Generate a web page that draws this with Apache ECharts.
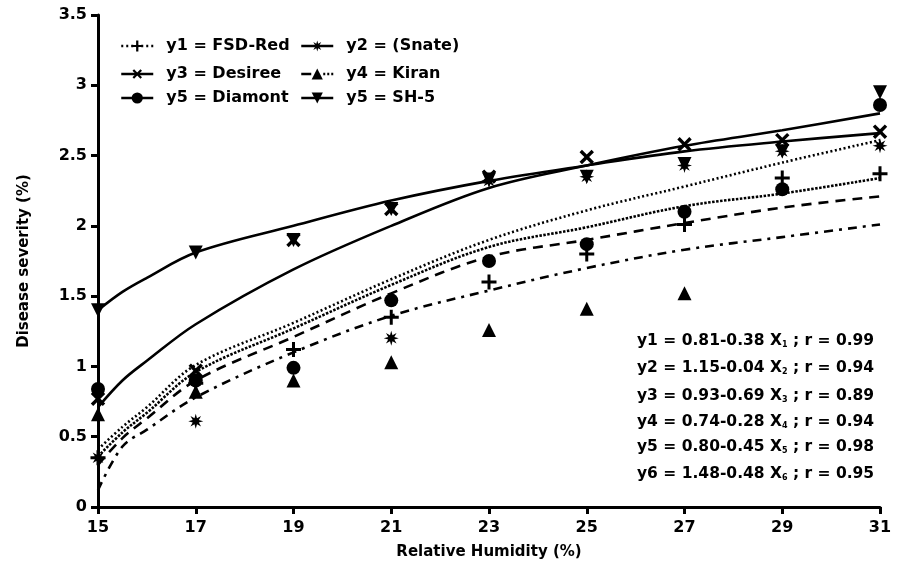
<!DOCTYPE html>
<html>
<head>
<meta charset="utf-8">
<script src="https://cdn.jsdelivr.net/npm/echarts@6/dist/echarts.min.js"></script>
<style>
  html, body { margin: 0; padding: 0; background: #fff; }
  #chart { width: 897px; height: 571px; }
</style>
</head>
<body>
<div id="chart"></div>
<script>
// Observed disease severity at each relative humidity level
const humidity = [15, 17, 19, 21, 23, 25, 27, 29, 31];
const fsdRed  = [0.35, 0.88, 1.12, 1.35, 1.60, 1.80, 2.01, 2.34, 2.37];
const snate   = [0.35, 0.61, null, 1.20, 2.32, 2.35, 2.43, 2.53, 2.57];
const desiree = [0.77, 0.97, 1.90, 2.12, 2.35, 2.49, 2.58, 2.61, 2.67];
const kiran   = [0.66, 0.82, 0.90, 1.03, 1.26, 1.41, 1.52, null, null];
const diamont = [0.84, 0.90, 0.99, 1.47, 1.75, 1.87, 2.10, 2.26, 2.86];
const sh5     = [1.40, 1.81, 1.90, 2.12, 2.33, 2.35, 2.44, 2.53, 2.95];

// Fitted trend curves, sampled along the humidity axis
const fitX       = [15, 15.5, 16, 17, 19, 21, 23, 25, 27, 29, 31];
const fitSh5     = [1.40, 1.53, 1.63, 1.81, 2.00, 2.18, 2.32, 2.43, 2.53, 2.60, 2.66];
const fitDesiree = [0.71, 0.90, 1.04, 1.30, 1.69, 2.00, 2.27, 2.43, 2.57, 2.68, 2.80];
const fitSnate   = [0.41, 0.57, 0.71, 1.01, 1.31, 1.62, 1.90, 2.11, 2.28, 2.45, 2.61];
const fitFsdRed  = [0.36, 0.53, 0.67, 0.96, 1.27, 1.58, 1.85, 1.99, 2.14, 2.23, 2.34];
const fitDiamont = [0.30, 0.49, 0.63, 0.90, 1.21, 1.52, 1.78, 1.90, 2.02, 2.13, 2.21];
const fitKiran   = [0.12, 0.43, 0.55, 0.78, 1.10, 1.36, 1.54, 1.70, 1.83, 1.92, 2.01];

// Regression equations shown in the lower right
const equations = [
  ['y1 = 0.81-0.38 X', '1', ' ; r = 0.99'],
  ['y2 = 1.15-0.04 X', '2', ' ; r = 0.94'],
  ['y3 = 0.93-0.69 X', '3', ' ; r = 0.89'],
  ['y4 = 0.74-0.28 X', '4', ' ; r = 0.94'],
  ['y5 = 0.80-0.45 X', '5', ' ; r = 0.98'],
  ['y6 = 1.48-0.48 X', '6', ' ; r = 0.95']
];

const FONT = 'DejaVu Sans';
const INK = '#000';

const PLUS = 'path://M4,0H6V4H10V6H6V10H4V6H0V4H4Z';
const STAR = 'path://M5,0L5.84,2.97L8.54,1.46L7.03,4.16L10,5L7.03,5.84L8.54,8.54L5.84,7.03L5,10L4.16,7.03L1.46,8.54L2.97,5.84L0,5L2.97,4.16L1.46,1.46L4.16,2.97Z';
const DOWN = 'path://M0,0H10L5,9Z';

const varieties = [
  { name: 'y1 = FSD-Red',  values: fsdRed,  symbol: PLUS, rotate: 0,  size: 15,
    legendLine: [2, 3], fit: fitFsdRed,  fitLine: [2.5, 1.5] },
  { name: 'y2 = (Snate)',  values: snate,   symbol: STAR, rotate: 0,  size: 15,
    legendLine: 'solid', fit: fitSnate,   fitLine: [2, 2.5] },
  { name: 'y3 = Desiree',  values: desiree, symbol: PLUS, rotate: 45, size: 17,
    legendLine: 'solid', fit: fitDesiree, fitLine: 'solid' },
  { name: 'y4 = Kiran',    values: kiran,   symbol: 'triangle', rotate: 0, size: 14,
    legendLine: [10, 12, 2, 2, 2, 2, 2, 2], fit: fitKiran, fitLine: [9, 6, 3, 6] },
  { name: 'y5 = Diamont',  values: diamont, symbol: 'circle', rotate: 0, size: 14,
    legendLine: 'solid', fit: fitDiamont, fitLine: [10, 7] },
  { name: 'y5 = SH-5',     values: sh5,     symbol: DOWN, rotate: 0,  size: 14,
    legendLine: 'solid', fit: fitSh5,     fitLine: 'solid' }
];

const pairs = (xs, ys) => xs.map((x, i) => [x, ys[i]]).filter(p => p[1] != null);

const series = [];
varieties.forEach((v) => {
  // fitted curve
  series.push({
    type: 'line',
    name: 'fit ' + v.name,
    data: pairs(fitX, v.fit),
    smooth: 0.35,
    showSymbol: false,
    silent: true,
    z: 2,
    lineStyle: { color: INK, width: 2.6, type: v.fitLine }
  });
  // observed points
  series.push({
    type: 'line',
    name: v.name,
    data: pairs(humidity, v.values),
    symbol: v.symbol,
    symbolRotate: v.rotate,
    symbolSize: v.size,
    showSymbol: true,
    z: 3,
    itemStyle: { color: INK },
    lineStyle: { color: INK, opacity: 0 }
  });
});

// One legend block per entry: two columns, three rows
const legendCols = [115, 295];
const legendRows = [33, 61, 85];
const legends = varieties.map((v, i) => ({
  left: legendCols[i % 2],
  top: legendRows[Math.floor(i / 2)],
  itemWidth: 32,
  itemHeight: 14,
  selectedMode: false,
  textStyle: { fontFamily: FONT, fontWeight: 'bold', fontSize: 16, color: INK, padding: [0, 0, 0, 8] },
  data: [{
    name: v.name,
    itemStyle: { color: INK },
    lineStyle: { color: INK, opacity: 1, width: 2.5, type: v.legendLine }
  }]
}));

const eqTops = [333, 360, 388, 414, 439, 466];
const graphics = equations.map((e, i) => ({
  type: 'text',
  left: 637,
  top: eqTops[i],
  style: {
    text: '{n|' + e[0] + '}{s|' + e[1] + '}{n|' + e[2] + '}',
    rich: {
      n: { fontFamily: FONT, fontWeight: 'bold', fontSize: 15.5, fill: INK },
      s: { fontFamily: FONT, fontWeight: 'bold', fontSize: 8, fill: INK, verticalAlign: 'bottom', padding: [8, 0, 0, 0] }
    }
  }
}));

const axisCommon = {
  axisLine: { lineStyle: { color: INK, width: 3 } },
  axisTick: { length: 7, lineStyle: { color: INK, width: 3 } },
  splitLine: { show: false },
  axisLabel: { color: INK, fontFamily: FONT, fontWeight: 'bold', fontSize: 16 },
  nameLocation: 'middle',
  nameTextStyle: { color: INK, fontFamily: FONT, fontWeight: 'bold', fontSize: 15 }
};

const chart = echarts.init(document.getElementById('chart'), null, { renderer: 'canvas' });
chart.setOption({
  animation: false,
  backgroundColor: '#fff',
  grid: { left: 98, right: 17, top: 15, bottom: 64, containLabel: false },
  legend: legends,
  graphic: graphics,
  xAxis: Object.assign({}, axisCommon, {
    type: 'value', min: 15, max: 31, interval: 2,
    name: 'Relative Humidity (%)', nameGap: 38,
    axisLabel: Object.assign({}, axisCommon.axisLabel, { margin: 13 })
  }),
  yAxis: Object.assign({}, axisCommon, {
    type: 'value', min: 0, max: 3.5, interval: 0.5,
    name: 'Disease severity (%)', nameGap: 66,
    axisLabel: Object.assign({}, axisCommon.axisLabel, { margin: 11 })
  }),
  series: series
});
</script>
</body>
</html>
